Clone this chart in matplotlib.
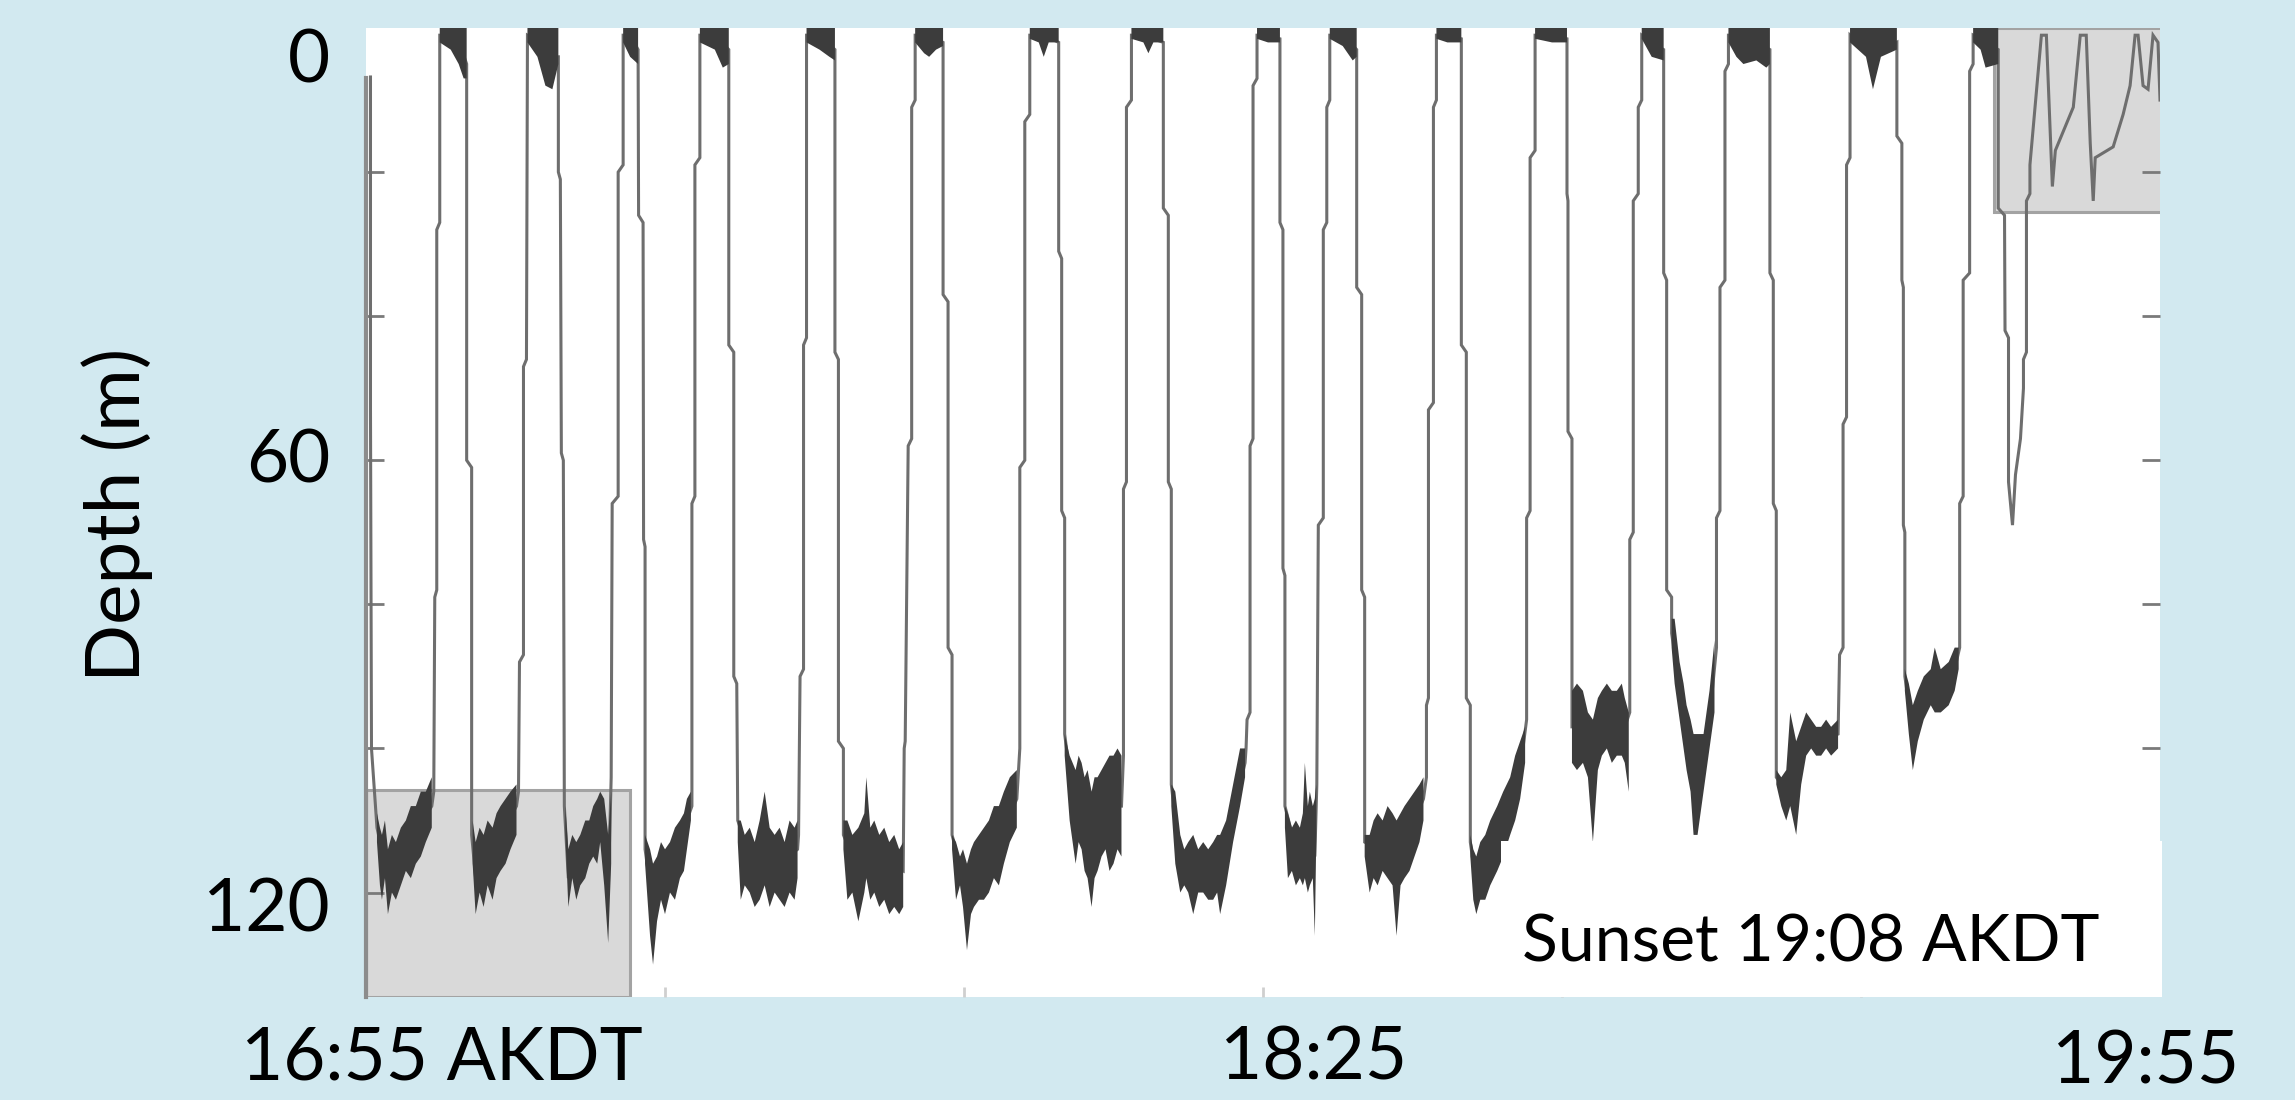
import numpy as np
import matplotlib as mpl
mpl.use('Agg')
import matplotlib.pyplot as plt
from matplotlib.patches import Rectangle

nan = float('nan')

# dive trace: minutes after 16:55 AKDT, depth in m
trace_time = [
    0.45, 0.45, 0.55, 1.1, 2.2, 4.0, 6.6, 6.8, 6.9, 7.1, 7.1, 7.4, 7.4, 8.5, 9.6, 10.1,
    10.1, 10.6, 10.6, 11.0, 12.0, 13.5, 15.1, 15.3, 15.4, 15.8, 15.8, 16.1, 16.2, 17.5, 18.5, 19.3,
    19.3, 19.5, 19.6, 19.8, 19.9, 20.3, 21.5, 22.8, 23.5, 24.3, 24.6, 24.7, 25.3, 25.3, 25.8, 25.8, 26.5, 27.3,
    27.35, 27.8, 27.85, 28.0, 28.0, 28.8, 30.5, 31.5, 32.2, 32.7, 32.7, 33.0, 33.0, 33.5, 33.5, 35.0, 36.4,
    36.4, 36.9, 36.9, 37.2, 37.3, 38.5, 40.0, 41.5, 43.3, 43.4, 43.55, 43.9, 43.9, 44.2, 44.2, 45.5, 47.05,
    47.05, 47.4, 47.4, 47.9, 47.9, 49.4, 51.0, 53.9, 54.0, 54.1, 54.4, 54.75, 54.75, 55.1, 55.1, 56.5, 57.9,
    57.9, 58.4, 58.4, 58.8, 58.8, 60.3, 62.5, 64.0, 65.3, 65.6, 65.6, 66.1, 66.1, 66.6, 66.6, 68.0, 69.5,
    69.5, 69.8, 69.8, 70.1, 70.1, 71.2, 72.8, 74.2, 75.8, 76.0, 76.0, 76.3, 76.3, 76.8, 76.8, 78.0, 80.0,
    80.0, 80.5, 80.5, 80.8, 80.8, 81.7, 83.0, 85.7, 87.0, 88.2, 88.3, 88.4, 88.7, 88.7, 89.0, 89.0, 89.4, 89.4, 90.5, 91.7,
    91.7, 92.0, 92.0, 92.2, 92.2, 93.3, 94.7, 95.2, 95.4, 95.55, 96.05, 96.05, 96.4, 96.4, 96.7, 96.7, 98.0, 99.4,
    99.4, 99.9, 99.9, 100.2, 100.2, 101.5, 103.4, 105.2, 106.1, 106.4, 106.4, 106.6, 106.6, 107.1, 107.1, 107.4, 107.4, 108.5, 109.9,
    109.9, 110.4, 110.4, 110.8, 110.8, 111.4, 113.5, 115.8, 116.45, 116.45, 116.8, 116.8, 117.3, 117.3, 119.0, 120.5,
    120.5, 120.6, 120.6, 121.0, 121.0, 122.1, 123.1, 124.5, 126.3, 126.8, 126.8, 127.15, 127.15, 127.65, 127.65, 128.0, 128.0, 129.0, 130.2,
    130.2, 130.5, 130.5, 131.0, 131.0, 131.8, 133.4, 134.8, 135.5, 135.5, 135.85, 135.85, 136.35, 136.35, 136.7, 136.7, 138.0, 139.5, 140.86,
    140.86, 141.2, 141.2, 141.5, 141.5, 142.5, 144.5, 146.0, 147.7, 147.85, 148.2, 148.2, 148.55, 148.55, 148.9, 148.9, 151.2, 153.6,
    153.6, 154.1, 154.1, 154.25, 154.25, 154.4, 154.4, 155.2, 157.0, 159.4, 159.9, 159.9, 160.25, 160.25, 160.9, 160.9, 161.25, 161.25, 162.5, 163.77,
    163.77, 164.4, 164.45, 164.8, 164.8, 165.2, 165.5, 166.0, 166.3, 166.3, 166.6, 166.6, 166.95, 166.95, 168.1,
    168.6, 169.2, 169.5, 171.3, 172.0, 172.6, 173.0, 173.3, 173.5, 175.3, 176.3, 177.0, 177.5, 177.8, 178.3, 178.8, 179.3, 179.8, 180.0,
]
trace_depth = [
    6.8, 53, 100, 111, 118, 114, 108, 106, 79, 78, 28, 27, 1, 1, 3, 5,
    60, 61, 112, 118, 116, 112, 108, 106, 88, 87, 47, 46, 1, 2, 4, 4,
    20, 21, 59, 60, 108, 118, 115, 111, 110, 120, 104, 66, 65, 20, 19, 1, 1, 3,
    26, 27, 71, 72, 114, 122, 116, 114, 110, 108, 66, 65, 19, 18, 1, 1, 3,
    44, 45, 90, 91, 110, 115, 112, 116, 114, 112, 90, 89, 44, 43, 1, 1, 3,
    45, 46, 99, 100, 112, 117, 115, 117, 100, 99, 58, 57, 11, 10, 1, 1, 2,
    37, 38, 86, 87, 112, 120, 115, 111, 107, 100, 61, 60, 13, 12, 1, 1, 2,
    31, 32, 67, 68, 98, 110, 114, 108, 108, 101, 64, 63, 11, 10, 1, 1, 2,
    25, 26, 63, 64, 105, 116, 117, 117, 109, 102, 100, 96, 95, 58, 57, 8, 7, 1, 1, 1.5,
    27, 28, 75, 76, 108, 114, 113, 115, 105, 69, 68, 28, 27, 11, 10, 1, 1, 3,
    36, 37, 78, 79, 113, 114, 116, 110, 107, 104, 94, 93, 53, 52, 11, 10, 1, 1, 1.5,
    44, 45, 93, 94, 113, 119, 112, 103, 96, 68, 67, 18, 17, 1, 1, 1.5,
    23, 24, 56, 57, 97, 97, 100, 95, 97, 95, 71, 70, 24, 23, 11, 10, 1, 2, 3,
    34, 35, 78, 79, 84, 92, 105, 96, 86, 68, 67, 36, 35, 6, 5, 1, 1, 2, 3,
    34, 35, 66, 67, 104, 106, 98, 99, 98, 87, 86, 55, 54, 19, 18, 1, 4, 2,
    15, 16, 35, 36, 69, 70, 90, 98, 91, 89, 86, 66, 65, 35, 34, 6, 5, 1, 2, 3,
    25, 26, 42, 43, 63, 69, 62, 57, 50, 46, 45, 24, 23, 19, 1,
    1, 22, 17, 11, 1, 1, 16, 24, 18, 16.5, 12, 8, 1, 1, 8, 8.5, 1, 2, 10,
]

# dense bottom activity: time, shallow edge, deep edge (nan splits the dives)
bottom_time = [
    1.1, 1.4, 1.6, 1.9, 2.2, 2.6, 3.0, 3.5, 4.0, 4.5, 5.0, 5.5, 6.0, 6.6, nan,
    10.7, 11.0, 11.4, 11.8, 12.2, 12.7, 13.1, 13.5, 14.0, 14.5, 15.1, nan,
    20.0, 20.3, 20.7, 21.1, 21.5, 22.0, 22.4, 22.8, 23.2, 23.5, 23.9, 24.3, 24.6, nan,
    28.0, 28.5, 28.8, 29.2, 29.6, 30.0, 30.5, 31.0, 31.5, 31.9, 32.2, 32.6, nan,
    37.3, 37.6, 38.0, 38.5, 39.0, 39.5, 40.0, 40.5, 41.0, 41.5, 42.0, 42.5, 43.0, 43.3, nan,
    47.9, 48.3, 48.8, 49.4, 50.0, 50.2, 50.6, 51.0, 51.5, 52.0, 52.5, 53.0, 53.5, 53.9, nan,
    58.8, 59.2, 59.6, 59.9, 60.3, 60.7, 61.0, 61.5, 62.0, 62.5, 63.0, 63.5, 64.0, 64.6, 65.3, nan,
    70.1, 70.6, 71.2, 71.5, 71.8, 72.1, 72.4, 72.8, 73.1, 73.4, 73.8, 74.2, 74.6, 75.0, 75.4, 75.8, nan,
    80.8, 81.2, 81.7, 82.1, 82.5, 83.0, 83.5, 84.0, 84.5, 85.0, 85.4, 85.7, 86.3, 87.0, 87.7, 88.2, nan,
    92.2, 92.5, 92.9, 93.3, 93.7, 94.0, 94.2, 94.5, 94.7, 95.0, 95.2, 95.35, nan,
    100.2, 100.7, 101.1, 101.5, 102.0, 102.5, 103.0, 103.4, 103.8, 104.2, 104.7, 105.2, 105.7, 106.1, nan,
    110.8, 111.1, 111.4, 111.8, 112.3, 112.8, 113.5, 114.1, 114.8, 115.3, 115.8, 116.3, nan,
    121.0, 121.5, 122.1, 122.6, 123.1, 123.6, 124.0, 124.5, 125.0, 125.5, 126.0, 126.3, 126.7, nan,
    131.0, 131.3, 131.8, 132.2, 132.5, 132.9, 133.2, 133.6, 134.2, 134.8, 135.3, nan,
    141.5, 142.0, 142.5, 142.9, 143.5, 144.0, 144.5, 145.0, 145.5, 146.0, 146.5, 147.0, 147.7, nan,
    154.4, 154.8, 155.2, 155.7, 156.3, 157.0, 157.4, 158.0, 158.8, 159.4, 159.8,
]
bottom_top = [
    109, 111, 112, 110, 114, 112, 113, 111, 110, 108, 108, 106, 106, 104, nan,
    110, 113, 111, 112, 110, 111, 109, 108, 107, 106, 105, nan,
    108, 114, 112, 113, 112, 110, 110, 108, 107, 106, 107, 112, 106, nan,
    112, 114, 116, 115, 113, 114, 113, 111, 110, 109, 107, 106, nan,
    110, 110, 112, 111, 113, 110, 106, 111, 112, 111, 113, 110, 111, 110, nan,
    110, 110, 112, 111, 109, 104, 111, 110, 112, 111, 113, 112, 114, 113, nan,
    112, 113, 115, 114, 116, 114, 113, 112, 111, 110, 108, 108, 106, 104, 103, nan,
    98, 101, 103, 101, 102, 104, 103, 106, 104, 104, 103, 102, 101, 101, 100, 101, nan,
    105, 106, 112, 114, 113, 112, 114, 113, 114, 113, 112, 112, 110, 105, 100, 100, nan,
    108, 109, 111, 110, 111, 109, 102, 108, 106, 108, 107, 105, nan,
    112, 112, 110, 109, 110, 108, 109, 110, 109, 108, 107, 106, 105, 104, nan,
    112, 114, 115, 113, 112, 110, 108, 106, 104, 101, 99, 97, nan,
    92, 91, 92, 95, 96, 93, 92, 91, 92, 92, 91, 93, 95, nan,
    82, 82, 88, 91, 94, 96, 98, 98, 98, 92, 85, nan,
    103, 104, 103, 95, 99, 97, 95, 96, 97, 97, 96, 97, 96, nan,
    89, 91, 94, 92, 90, 89, 86, 89, 88, 86, 86,
]
bottom_deep = [
    113, 119, 121, 118, 123, 120, 121, 119, 117, 118, 116, 115, 113, 111, nan,
    116, 123, 120, 122, 119, 121, 118, 117, 116, 114, 112, nan,
    112, 122, 118, 121, 119, 118, 116, 115, 116, 113, 119, 127, 116, nan,
    116, 126, 130, 124, 121, 123, 120, 121, 118, 117, 114, 110, nan,
    113, 121, 119, 120, 122, 121, 119, 122, 120, 121, 122, 120, 121, 118, nan,
    114, 121, 120, 124, 120, 118, 121, 120, 122, 121, 123, 122, 123, 122, nan,
    114, 121, 119, 122, 128, 123, 122, 121, 121, 120, 118, 119, 116, 113, 111, nan,
    101, 110, 116, 113, 114, 117, 118, 122, 118, 117, 115, 114, 117, 116, 114, 115, nan,
    108, 116, 120, 119, 120, 123, 120, 120, 121, 121, 120, 123, 119, 113, 108, 104, nan,
    111, 118, 117, 119, 118, 119, 118, 120, 119, 118, 126, 112, nan,
    115, 120, 118, 119, 117, 118, 119, 126, 119, 118, 117, 115, 113, 110, nan,
    115, 121, 123, 121, 121, 119, 117, 115, 112, 110, 107, 102, nan,
    102, 103, 102, 104, 113, 103, 101, 100, 102, 101, 101, 102, 106, nan,
    86, 91, 96, 100, 103, 106, 112, 112, 106, 100, 95, nan,
    105, 108, 110, 108, 112, 105, 101, 100, 101, 101, 100, 101, 100, nan,
    92, 98, 103, 99, 96, 94, 95, 95, 94, 92, 89,
]

# dense surface activity: time and deepest point reached (top is the surface)
surface_time = [
    7.4, 8.5, 9.3, 9.8, 10.1, nan,
    16.2, 17.2, 18.0, 18.7, 19.3, nan,
    25.8, 26.5, 27.3, nan,
    33.5, 35.0, 35.8, 36.4, nan,
    44.2, 45.5, 46.5, 47.05, nan,
    55.1, 56.0, 56.5, 57.2, 57.9, nan,
    66.6, 67.5, 68.0, 68.5, 69.5, nan,
    76.8, 78.0, 78.5, 79.0, 80.0, nan,
    89.4, 90.5, 91.7, nan,
    96.7, 98.0, 99.0, 99.4, nan,
    107.4, 108.5, 109.9, nan,
    117.3, 119.0, 120.5, nan,
    128.0, 129.0, 130.2, nan,
    136.7, 137.5, 138.2, 139.5, 140.5, 140.86, nan,
    148.9, 150.5, 151.2, 152.0, 153.6, nan,
    161.25, 162.0, 162.5, 163.77,
]
surface_deep = [
    2, 3, 5, 7, 7, nan,
    2, 4, 8, 8.5, 5, nan,
    2, 4, 5, nan,
    2, 3, 5.5, 5, nan,
    2, 3, 4, 4.5, nan,
    2, 3.5, 4, 3, 2.5, nan,
    1.5, 2, 4, 2, 2, nan,
    1.5, 2, 3.5, 2, 2, nan,
    1.5, 2, 2, nan,
    1.5, 2.5, 4.5, 4, nan,
    1.5, 2, 2, nan,
    1.5, 2, 2, nan,
    1.5, 4, 4.5, nan,
    2, 4, 5, 4.5, 5.5, 5, nan,
    2, 4, 8.5, 4, 3, nan,
    2, 3, 5.5, 5,
]

# shaded windows and the sunset note box: (start min, end min, top m, bottom m)
early_window = (0, 26.5, 105.7, 134.5)
late_window = (163.3, 180.2, 0, 25.6)
sunset_box = (113.9, 180.2, 112.9, 134.5)

depth_labels = ['0', '60', '120']
time_labels = ['16:55 AKDT', '18:25', '19:55']
sunset_note = 'Sunset 19:08 AKDT'

BG = '#d2e9f0'


def add_window(ax, win, face, edge, z):
    t0, t1, d0, d1 = win
    ax.add_patch(Rectangle((t0, d0), t1 - t0, d1 - d0, facecolor=face,
                           edgecolor=edge, linewidth=2.2, zorder=z))


def main():
    plt.rcParams['font.family'] = ['Lato', 'DejaVu Sans']

    fig = plt.figure(figsize=(22.95, 11.0), dpi=100, facecolor=BG)
    ax = fig.add_axes([366 / 2295, 1 - 997 / 1100, 1794 / 2295, 969 / 1100])
    ax.set_facecolor('white')

    ax.set_xlim(0, 180)
    ax.set_ylim(134.5, 0)

    for s in ['top', 'right', 'bottom']:
        ax.spines[s].set_visible(False)
    ax.spines['left'].set_color('#8c8c8c')
    ax.spines['left'].set_linewidth(3)
    ax.spines['left'].set_bounds(7, 134.5)

    ax.set_yticks([20, 40, 60, 80, 100, 120])
    ax.set_xticks([30, 60, 90, 120, 150])
    ax.tick_params(axis='y', direction='in', left=True, right=True,
                   labelleft=False, length=13, width=2, color='#7a7a7a')
    ax.tick_params(axis='x', direction='in', bottom=True, labelbottom=False,
                   length=7, width=2, color='#cfcfcf')

    add_window(ax, early_window, '#d9d9d9', '#a3a3a3', 1)
    add_window(ax, late_window, '#d9d9d9', '#a3a3a3', 1)

    ax.fill_between(surface_time, 0, surface_deep, color='#3c3c3c',
                    linewidth=0, zorder=3)
    ax.fill_between(bottom_time, bottom_top, bottom_deep, color='#3c3c3c',
                    linewidth=0, zorder=3)
    ax.plot(trace_time, trace_depth, color='#6e6e6e', linewidth=2.2,
            solid_joinstyle='miter', zorder=2)

    t0, t1, d0, d1 = sunset_box
    ax.add_patch(Rectangle((t0, d0), t1 - t0, d1 - d0, facecolor='white',
                           edgecolor='none', zorder=5, clip_on=False))

    fs = 52.5
    ylab_y = [1 - 62 / 1100, 1 - 462 / 1100, 1 - 911 / 1100]
    for lab, yy in zip(depth_labels, ylab_y):
        fig.text(330 / 2295, yy, lab, fontsize=fs, ha='right', va='center')

    fig.text(117 / 2295, 1 - 515 / 1100, 'Depth (m)', fontsize=55,
             rotation=90, ha='center', va='center')

    xlab_x = [442 / 2295, 1314 / 2295, 2146 / 2295]
    xlab_y = [1 - 1080 / 1100, 1 - 1080 / 1100, 1 - 1084 / 1100]
    for lab, xx, yy in zip(time_labels, xlab_x, xlab_y):
        fig.text(xx, yy, lab, fontsize=fs, ha='center', va='baseline')

    fig.text(1522 / 2295, 1 - 962 / 1100, sunset_note, fontsize=47.5,
             ha='left', va='baseline', zorder=6)

    fig.savefig('out.png', dpi=100, facecolor=BG)


if __name__ == '__main__':
    main()
